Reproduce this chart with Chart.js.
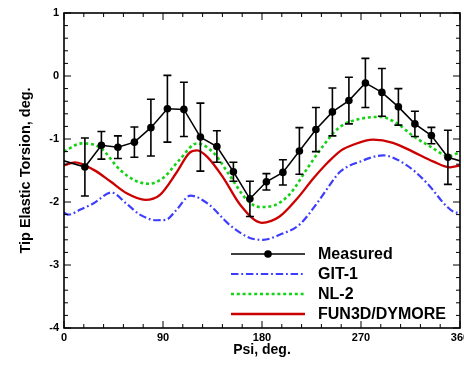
<!DOCTYPE html>
<html>
<head>
<meta charset="utf-8">
<script src="https://cdn.jsdelivr.net/npm/chart.js@4.4.0/dist/chart.umd.min.js"></script>
<style>
    html, body { margin: 0; padding: 0; background: #fff; }
    #wrap { width: 464px; height: 365px; }
</style>
</head>
<body>
<div id="wrap"><canvas id="torsionChart" width="464" height="365"></canvas></div>
<script>
// measured points (periodic, so first/last points repeat outside 0..360)
var measPsi = [-11, 19, 34, 49, 64, 79, 94, 109, 124, 139, 154, 169, 184, 199, 214, 229, 244, 259, 274, 289, 304, 319, 334, 349, 379];
var measVal = [-1.29, -1.445, -1.10, -1.13, -1.05, -0.82, -0.52, -0.53, -0.97, -1.12, -1.52, -1.95, -1.68, -1.53, -1.19, -0.85, -0.57, -0.39, -0.11, -0.26, -0.49, -0.76, -0.945, -1.29, -1.445];
var measErr = [0.43, 0.46, 0.22, 0.18, 0.24, 0.45, 0.53, 0.43, 0.54, 0.25, 0.15, 0.28, 0.13, 0.20, 0.37, 0.35, 0.38, 0.37, 0.39, 0.38, 0.29, 0.20, 0.13, 0.43, 0.46];

var gitPsi = [0, 4, 15, 27, 43, 57, 69, 84, 93, 102, 115, 131, 151, 169, 181, 196, 214, 230, 240, 251, 269, 290, 311, 330, 348, 357, 360];
var gitVal = [-2.17, -2.2, -2.12, -2.02, -1.85, -2.03, -2.2, -2.29, -2.28, -2.13, -1.9, -2.03, -2.37, -2.57, -2.6, -2.52, -2.36, -2.02, -1.77, -1.52, -1.36, -1.26, -1.41, -1.7, -2.07, -2.17, -2.17];

var nlPsi = [0, 16, 33, 51, 66, 77, 90, 105, 121, 136, 151, 166, 178, 190, 206, 221, 236, 250, 272, 288, 302, 318, 333, 350, 360];
var nlVal = [-1.2, -1.07, -1.14, -1.49, -1.67, -1.71, -1.62, -1.33, -1.07, -1.22, -1.59, -1.96, -2.08, -2.06, -1.86, -1.47, -1.1, -0.82, -0.67, -0.65, -0.745, -0.96, -1.12, -1.27, -1.21];

var funPsi = [0, 10, 27, 42, 57, 74, 87, 102, 114, 121, 130, 145, 160, 180, 196, 211, 227, 240, 252, 263, 281, 299, 317, 336, 351, 360];
var funVal = [-1.42, -1.37, -1.49, -1.67, -1.86, -1.965, -1.89, -1.54, -1.22, -1.18, -1.28, -1.62, -2.04, -2.33, -2.23, -1.965, -1.62, -1.37, -1.18, -1.09, -1.01, -1.06, -1.2, -1.36, -1.45, -1.42];

var seriesNames = ["Measured", "GIT-1", "NL-2", "FUN3D/DYMORE"];
var xTickLabels = [0, 90, 180, 270, 360];
var yTickLabels = [-4, -3, -2, -1, 0, 1];

var fontFam = "'Liberation Sans', Arial, sans-serif";

function toPoints(xs, ys) {
    var pts = [];
    for (var i = 0; i < xs.length; i++) {
        pts.push({ x: xs[i], y: ys[i] });
    }
    return pts;
}

function isWhole(v) {
    return Math.abs(v - Math.round(v)) < 1e-6;
}

// error bars for the measured set
var errorBars = {
    id: 'errorBars',
    afterDatasetsDraw: function (chart) {
        var ctx = chart.ctx, a = chart.chartArea;
        var x = chart.scales.x, y = chart.scales.y;
        ctx.save();
        ctx.beginPath();
        ctx.rect(a.left, a.top, a.right - a.left, a.bottom - a.top);
        ctx.clip();
        ctx.strokeStyle = '#000';
        ctx.lineWidth = 1.6;
        ctx.beginPath();
        for (var i = 0; i < measPsi.length; i++) {
            var px = x.getPixelForValue(measPsi[i]);
            var top = y.getPixelForValue(measVal[i] + measErr[i]);
            var bot = y.getPixelForValue(measVal[i] - measErr[i]);
            ctx.moveTo(px, top); ctx.lineTo(px, bot);
            ctx.moveTo(px - 4, top); ctx.lineTo(px + 4, top);
            ctx.moveTo(px - 4, bot); ctx.lineTo(px + 4, bot);
        }
        ctx.stroke();
        ctx.restore();
    }
};

// box round the plot with inward ticks on all four sides
var frameTicks = {
    id: 'frameTicks',
    afterDatasetsDraw: function (chart) {
        var ctx = chart.ctx, a = chart.chartArea;
        var x = chart.scales.x, y = chart.scales.y;
        ctx.save();
        ctx.strokeStyle = '#000';
        ctx.lineWidth = 1;
        ctx.beginPath();
        x.ticks.forEach(function (t) {
            var px = x.getPixelForValue(t.value);
            var len = (Math.round(t.value) % 90 === 0) ? 7 : 4;
            ctx.moveTo(px, a.bottom); ctx.lineTo(px, a.bottom - len);
            ctx.moveTo(px, a.top); ctx.lineTo(px, a.top + len);
        });
        y.ticks.forEach(function (t) {
            var py = y.getPixelForValue(t.value);
            var len = isWhole(t.value) ? 7 : 4;
            ctx.moveTo(a.left, py); ctx.lineTo(a.left + len, py);
            ctx.moveTo(a.right, py); ctx.lineTo(a.right - len, py);
        });
        ctx.stroke();
        ctx.lineWidth = 1.6;
        ctx.strokeRect(a.left, a.top, a.right - a.left, a.bottom - a.top);
        ctx.restore();
    }
};

// legend inside the plot, bottom right
var insideLegend = {
    id: 'insideLegend',
    afterDraw: function (chart) {
        var ctx = chart.ctx;
        var x0 = 231, x1 = 305, tx = 318, y0 = 254, dy = 20;
        ctx.save();
        chart.data.datasets.forEach(function (ds, i) {
            var yy = y0 + i * dy;
            ctx.strokeStyle = ds.borderColor;
            ctx.lineWidth = ds.borderWidth;
            ctx.setLineDash(ds.borderDash || []);
            ctx.beginPath();
            ctx.moveTo(x0, yy); ctx.lineTo(x1, yy);
            ctx.stroke();
            ctx.setLineDash([]);
            if (ds.pointRadius > 0) {
                ctx.fillStyle = ds.pointBackgroundColor;
                ctx.beginPath();
                ctx.arc((x0 + x1) / 2, yy, ds.pointRadius, 0, Math.PI * 2);
                ctx.fill();
            }
            ctx.fillStyle = '#000';
            ctx.font = 'bold 16px ' + fontFam;
            ctx.textBaseline = 'middle';
            ctx.textAlign = 'left';
            ctx.fillText(ds.label, tx, yy + 0.5);
        });
        ctx.restore();
    }
};

new Chart(document.getElementById('torsionChart'), {
    type: 'line',
    data: {
        datasets: [{
            label: seriesNames[0],
            data: toPoints(measPsi, measVal),
            borderColor: '#000',
            borderWidth: 1.5,
            pointRadius: 3.8,
            pointBackgroundColor: '#000',
            pointBorderWidth: 0,
            tension: 0
        }, {
            label: seriesNames[1],
            data: toPoints(gitPsi, gitVal),
            borderColor: '#3d3dff',
            borderWidth: 2.2,
            borderDash: [7.5, 2.8, 1.8, 2.8],
            pointRadius: 0,
            cubicInterpolationMode: 'monotone'
        }, {
            label: seriesNames[2],
            data: toPoints(nlPsi, nlVal),
            borderColor: '#14d214',
            borderWidth: 2.6,
            borderDash: [3, 2.8],
            pointRadius: 0,
            cubicInterpolationMode: 'monotone'
        }, {
            label: seriesNames[3],
            data: toPoints(funPsi, funVal),
            borderColor: '#cc0000',
            borderWidth: 2.3,
            pointRadius: 0,
            cubicInterpolationMode: 'monotone'
        }]
    },
    options: {
        responsive: false,
        animation: false,
        events: [],
        layout: {
            autoPadding: false,
            padding: { top: 13, right: 4, left: 0, bottom: 0 }
        },
        plugins: {
            legend: { display: false },
            tooltip: { enabled: false }
        },
        scales: {
            x: {
                type: 'linear',
                min: 0,
                max: 360,
                afterFit: function (s) {
                    s.height = 37;
                    s.paddingLeft = 0;
                    s.paddingRight = 0;
                },
                grid: { display: false, drawTicks: false },
                border: { display: false },
                ticks: {
                    stepSize: 18,
                    autoSkip: false,
                    maxRotation: 0,
                    padding: 3,
                    color: '#000',
                    font: { family: fontFam, size: 11, weight: 'bold' },
                    callback: function (v) {
                        var r = Math.round(v);
                        return (Math.abs(v - r) < 1e-6 && xTickLabels.indexOf(r) >= 0) ? String(r) : '';
                    }
                },
                title: {
                    display: true,
                    text: 'Psi, deg.',
                    color: '#000',
                    font: { family: fontFam, size: 14, weight: 'bold' },
                    padding: { top: 0, bottom: 6 }
                }
            },
            y: {
                min: -4,
                max: 1,
                afterFit: function (s) {
                    s.width = 64;
                    s.paddingTop = 0;
                    s.paddingBottom = 0;
                },
                grid: { display: false, drawTicks: false },
                border: { display: false },
                ticks: {
                    stepSize: 0.2,
                    autoSkip: false,
                    padding: 5,
                    color: '#000',
                    font: { family: fontFam, size: 11, weight: 'bold' },
                    callback: function (v) {
                        var r = Math.round(v);
                        return (isWhole(v) && yTickLabels.indexOf(r) >= 0) ? String(r) : '';
                    }
                },
                title: {
                    display: true,
                    text: 'Tip Elastic Torsion, deg.',
                    color: '#000',
                    font: { family: fontFam, size: 14.5, weight: 'bold' },
                    padding: { top: 17, bottom: 0 }
                }
            }
        }
    },
    plugins: [errorBars, frameTicks, insideLegend]
});
</script>
</body>
</html>
